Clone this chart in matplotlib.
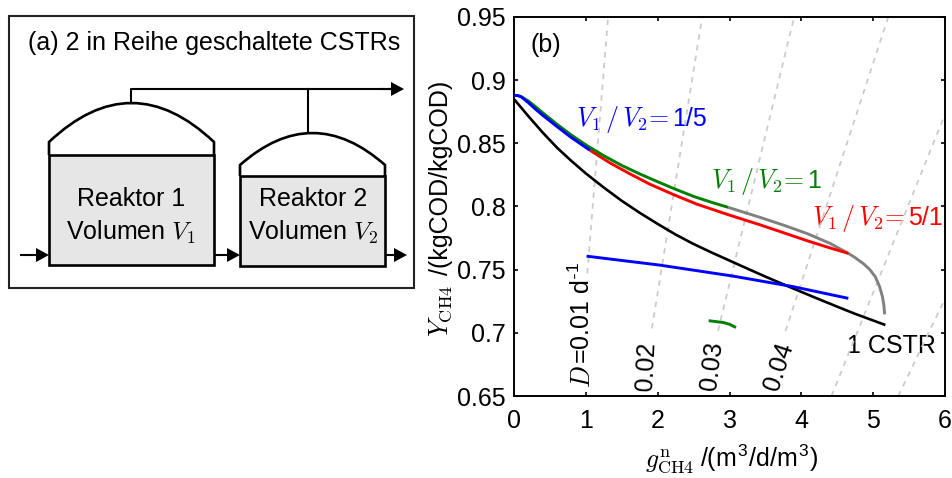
import numpy as np
import matplotlib
matplotlib.use("Agg")
import matplotlib.pyplot as plt
from matplotlib.patches import Rectangle, Polygon, PathPatch
from matplotlib.path import Path

plt.rcParams['font.family'] = ['Liberation Sans', 'DejaVu Sans']
plt.rcParams['mathtext.fontset'] = 'cm'

# ---- data -----------------------------------------------------------
green_x = [0.0, 0.05, 0.1, 0.2, 0.3, 0.4, 0.6, 0.8, 1.0, 1.25, 1.5, 1.75, 2.0, 2.25, 2.5, 2.75, 2.983]
green_y = [0.888, 0.8878, 0.887, 0.8835, 0.879, 0.8742, 0.865, 0.8565, 0.8488, 0.8402, 0.8325, 0.8258, 0.8196, 0.8136, 0.808, 0.8033, 0.7993]
gray_x = [2.983, 3.425, 3.749, 4.075, 4.40, 4.654, 4.75, 4.863, 4.95, 5.03, 5.09, 5.13, 5.15, 5.16]
gray_y = [0.7993, 0.7914, 0.7853, 0.7787, 0.7708, 0.7629, 0.7595, 0.7548, 0.7503, 0.7443, 0.7365, 0.7285, 0.7215, 0.7146]
blue_x = [0.0, 0.05, 0.1, 0.2, 0.3, 0.4, 0.6, 0.8, 1.058]
blue_y = [0.888, 0.8878, 0.8868, 0.8822, 0.877, 0.8722, 0.8632, 0.8545, 0.8445]
red_x = [1.058, 1.336, 1.615, 1.893, 2.218, 2.543, 2.983, 3.425, 3.749, 4.075, 4.40, 4.654]
red_y = [0.8445, 0.8345, 0.8258, 0.8176, 0.8095, 0.8019, 0.7935, 0.7855, 0.7793, 0.773, 0.7672, 0.7629]
black_x = [0.0, 0.2, 0.4, 0.6, 0.8, 1.0, 1.25, 1.5, 1.75, 2.0, 2.25, 2.5, 2.75, 3.0, 3.25, 3.5, 3.75, 4.0, 4.25, 4.5, 4.75, 5.17]
black_y = [0.885, 0.8715, 0.8585, 0.8465, 0.836, 0.8262, 0.815, 0.8045, 0.795, 0.7862, 0.7778, 0.7703, 0.7636, 0.7572, 0.7508, 0.7445, 0.7384, 0.7324, 0.7265, 0.7207, 0.715, 0.7062]
blue2_x = [1.01, 2.03, 3.05, 3.89, 4.654]
blue2_y = [0.7607, 0.7536, 0.7449, 0.7365, 0.7273]
green2_x = [2.71, 2.91, 3.0, 3.09]
green2_y = [0.7096, 0.7082, 0.7068, 0.7042]
# constant-D guide lines: (x at bottom, y at bottom, x at top, y at top)
d_lines = [(1.02, 0.747, 1.31, 0.95),
           (1.92, 0.7035, 2.62, 0.95),
           (2.84, 0.7015, 3.90, 0.95),
           (3.78, 0.7015, 5.21, 0.95),
           (4.42, 0.65, 6.0, 0.873),
           (5.35, 0.65, 6.0, 0.727)]
x_ticks = [0, 1, 2, 3, 4, 5, 6]
y_ticks = [0.65, 0.7, 0.75, 0.8, 0.85, 0.9, 0.95]
y_ticklabels = ['0.65', '0.7', '0.75', '0.8', '0.85', '0.9', '0.95']

W, H = 953, 478
fig = plt.figure(figsize=(W / 100, H / 100), dpi=100)
FS = 18
MS = 18.6

# ---- left schematic and labels, in pixel space ----------------------
bg = fig.add_axes([0, 0, 1, 1])
bg.set_xlim(0, W)
bg.set_ylim(H, 0)
bg.axis('off')
LW = 1.5


def reactor(x0, x1, bottom, liquid, wall, apex):
    bg.add_patch(Rectangle((x0, liquid), x1 - x0, bottom - liquid, fc='#e6e6e6', ec='k', lw=LW + 0.4, zorder=2))
    xm = (x0 + x1) / 2
    ctrl = 2 * apex - wall
    verts = [(x0, liquid), (x0, wall), (xm, ctrl), (x1, wall), (x1, liquid)]
    codes = [Path.MOVETO, Path.LINETO, Path.CURVE3, Path.CURVE3, Path.LINETO]
    bg.add_patch(PathPatch(Path(verts, codes), fc='none', ec='k', lw=LW + 0.4, zorder=3))
    return xm


def arrow(x0, x1, y):
    bg.plot([x0, x1 - 12], [y, y], color='k', lw=LW, solid_capstyle='butt')
    bg.add_patch(Polygon([(x1 - 13, y - 7), (x1, y), (x1 - 13, y + 7)], fc='k', ec='none', zorder=4))


bg.add_patch(Rectangle((9, 16), 405, 272, fc='none', ec='#222222', lw=LW))
xm1 = reactor(49, 214, 265, 155, 142, 103)
xm2 = reactor(240, 385, 266, 176, 165, 133)
bg.plot([131, 131, 392], [103, 89, 89], color='k', lw=LW)
bg.plot([308, 308], [133, 89], color='k', lw=LW)
arrow(380, 404, 89)
arrow(20, 49, 255)
arrow(214, 240, 255)
arrow(385, 407, 255)
bg.text(214, 43, '(a) 2 in Reihe geschaltete CSTRs', ha='center', va='center', fontsize=FS)
bg.text(131, 199, 'Reaktor 1', ha='center', va='center', fontsize=FS)
bg.text(131, 232, r'Volumen $V_1$', ha='center', va='center', fontsize=FS)
bg.text(313, 199, 'Reaktor 2', ha='center', va='center', fontsize=FS)
bg.text(313, 232, r'Volumen $V_2$', ha='center', va='center', fontsize=FS)

RATIO = r'$V_1\,/\,V_2\!=$'


def ratio_label(x_eq, y, value, color):
    bg.text(x_eq, y, RATIO, color=color, fontsize=MS, ha='right', va='baseline')
    bg.text(x_eq + 3, y, value, color=color, fontsize=FS, ha='left', va='baseline')


bg.text(546, 45, '(b)', ha='center', va='center', fontsize=FS)
ratio_label(669, 126, '1/5', '#0000ff')
ratio_label(804, 188, '1', '#008000')
ratio_label(905, 225, '5/1', '#ff0000')
bg.text(891, 346, '1 CSTR', color='k', fontsize=FS, ha='center', va='center')
bg.text(590, 388, r'$D$', fontsize=MS, rotation=90, ha='left', va='baseline', rotation_mode='anchor')
bg.text(590, 364, r'=0.01 d$^{\text{-}\mathregular{1}}$', fontsize=FS, rotation=90, ha='left', va='baseline', rotation_mode='anchor')
bg.text(646, 366, '0.02', rotation=87, fontsize=FS, ha='center', va='center')
bg.text(712, 366, '0.03', rotation=83, fontsize=FS, ha='center', va='center')
bg.text(779, 367, '0.04', rotation=72, fontsize=FS, ha='center', va='center')

# axis titles: larger mathematical symbol, sans-serif unit part
bg.text(694, 467, r'$g_{\mathrm{CH4}}^{\mathrm{n}}$', fontsize=MS, ha='right', va='baseline')
bg.text(700, 467, r'/(m$^{\mathregular{3}}$/d/m$^{\mathregular{3}}$)', fontsize=FS, ha='left', va='baseline')
bg.text(448, 337, r'$Y_{\mathrm{CH4}}$', fontsize=MS, rotation=90, ha='left', va='baseline', rotation_mode='anchor')
bg.text(448, 275, '/(kgCOD/kgCOD)', fontsize=FS, rotation=90, ha='left', va='baseline', rotation_mode='anchor')

# ---- right chart ----------------------------------------------------
L, R, T, B = 514, 945, 17, 396
ax = fig.add_axes([L / W, 1 - B / H, (R - L) / W, (B - T) / H])
ax.patch.set_alpha(0)
ax.set_xlim(0, 6)
ax.set_ylim(0.65, 0.95)
for x0, y0, x1, y1 in d_lines:
    ax.plot([x0, x1], [y0, y1], color='#cccccc', lw=1.3, ls=(0, (3, 3)), zorder=1)
CURVE = dict(lw=2.1, solid_joinstyle='round', solid_capstyle='butt')
ax.plot(gray_x, gray_y, color='#808080', zorder=3, **CURVE)
ax.plot(black_x, black_y, color='k', zorder=3, **{**CURVE, 'lw': 1.9})
ax.plot(red_x, red_y, color='#ff0000', zorder=4, **CURVE)
ax.plot(green_x, green_y, color='#008000', zorder=4, **CURVE)
ax.plot(blue_x, blue_y, color='#0000ff', zorder=5, **CURVE)
ax.plot(blue2_x, blue2_y, color='#0000ff', zorder=4, **CURVE)
ax.plot(green2_x, green2_y, color='#008000', zorder=4, **CURVE)
ax.set_xticks(x_ticks)
ax.set_yticks(y_ticks)
ax.set_yticklabels(y_ticklabels)
ax.tick_params(direction='in', top=True, right=True, length=3, width=1.2, labelsize=FS, pad=6)
ax.tick_params(axis='x', pad=9)
for s in ax.spines.values():
    s.set_linewidth(1.4)

fig.savefig('out.png', dpi=100)
